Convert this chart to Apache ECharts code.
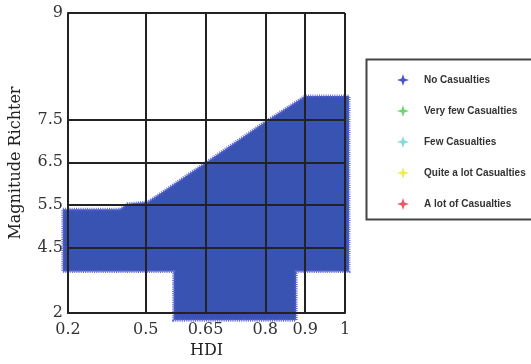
<!DOCTYPE html>
<html>
<head>
<meta charset="utf-8">
<script src="https://cdn.jsdelivr.net/npm/echarts@6/dist/echarts.min.js"></script>
<style>html,body{margin:0;padding:0;background:#fff;}#c{width:531px;height:364px;}</style>
</head>
<body>
<div id="c"></div>
<script>
// ---- data ----
var xTicks = [0.2, 0.5, 0.65, 0.8, 0.9, 1];
var yTicks = [2, 4.5, 5.5, 6.5, 7.5, 9];
var seriesNames = ['No Casualties', 'Very few Casualties', 'Few Casualties', 'Quite a lot Casualties', 'A lot of Casualties'];
// boundary of the "No Casualties" region (HDI, magnitude)
var regionHDI = [0.18, 0.40, 0.43, 0.505, 0.65, 0.80, 0.90, 1.01, 1.01, 0.8775, 0.8775, 0.57, 0.57, 0.18];
var regionMag = [5.40, 5.40, 5.53, 5.57, 6.49, 7.45, 7.83, 7.83, 3.59, 3.59, 1.73, 1.73, 3.59, 3.59];

// ---- nonlinear axis scales of the original figure ----
function tx(x) { return x < 0.5 ? 0.5 - (0.5 - x) * 0.65 : x; }
function ty(y) { return y < 4.5 ? 4.5 - (4.5 - y) * 0.61 : (y > 7.5 ? 7.5 + (y - 7.5) * 1.66 : y); }
function labelFor(ticks, f) {
  return function (v) {
    var best = '', d = 1e9;
    ticks.forEach(function (t) { var dd = Math.abs(f(t) - v); if (dd < d) { d = dd; best = String(t); } });
    return best;
  };
}

var colors = ['#4a50cc', '#4dc94d', '#66cfcf', '#e8e820', '#e8283a'];
var star = 'path://M5,0 L6.2,3.8 L10,5 L6.2,6.2 L5,10 L3.8,6.2 L0,5 L3.8,3.8 Z';
var serif = 'DejaVu Serif';

var series = [{
  name: seriesNames[0],
  type: 'custom',
  itemStyle: { color: colors[0] },
  clip: false,
  data: [0],
  renderItem: function (params, api) {
    var pts = regionHDI.map(function (x, i) { return api.coord([tx(x), ty(regionMag[i])]); });
    return {
      type: 'polygon',
      shape: { points: pts },
      style: { fill: '#3953b3', stroke: '#6468dc', lineWidth: 3, lineDash: [1, 1.2] }
    };
  }
}];
for (var i = 1; i < seriesNames.length; i++) {
  series.push({ name: seriesNames[i], type: 'scatter', data: [], itemStyle: { color: colors[i] } });
}

var chart = echarts.init(document.getElementById('c'));
chart.setOption({
  animation: false,
  color: colors,
  grid: { left: 67, right: 186, top: 13, bottom: 47, show: false },
  legend: {
    orient: 'vertical',
    left: 392, top: 69,
    itemWidth: 12, itemHeight: 12, itemGap: 19,
    data: seriesNames.map(function (n) { return { name: n, icon: star }; }),
    textStyle: { fontFamily: "'Liberation Sans',Arial,sans-serif", fontWeight: 'bold', fontSize: 10, color: '#333', padding: [0, 0, 0, 10] }
  },
  graphic: [{
    type: 'rect', left: 364, top: 57, z: -1,
    shape: { width: 180, height: 160 },
    style: { fill: 'none', stroke: '#444', lineWidth: 2 }
  }],
  xAxis: {
    type: 'value', min: tx(0.2), max: 1, z: 10,
    name: 'HDI', nameLocation: 'middle', nameGap: 28,
    nameTextStyle: { fontFamily: serif, fontSize: 16, color: '#222' },
    axisLine: { show: true, lineStyle: { color: '#222', width: 2 } },
    axisTick: { show: false, customValues: xTicks.map(tx) },
    splitLine: { show: true, lineStyle: { color: '#222', width: 2 } },
    axisLabel: { customValues: xTicks.map(tx), formatter: labelFor(xTicks, tx), fontFamily: serif, fontSize: 16, color: '#333', margin: 9, hideOverlap: false }
  },
  yAxis: {
    type: 'value', min: ty(2), max: ty(9), z: 10,
    name: 'Magnitude Richter', nameLocation: 'middle', nameGap: 44,
    nameTextStyle: { fontFamily: serif, fontSize: 16, color: '#222' },
    axisLine: { show: true, lineStyle: { color: '#222', width: 2 } },
    axisTick: { show: false, customValues: yTicks.map(ty) },
    splitLine: { show: true, lineStyle: { color: '#222', width: 2 } },
    axisLabel: { customValues: yTicks.map(ty), formatter: labelFor(yTicks, ty), fontFamily: serif, fontSize: 16, color: '#333', margin: 5, hideOverlap: false }
  },
  series: series
});
</script>
</body>
</html>
